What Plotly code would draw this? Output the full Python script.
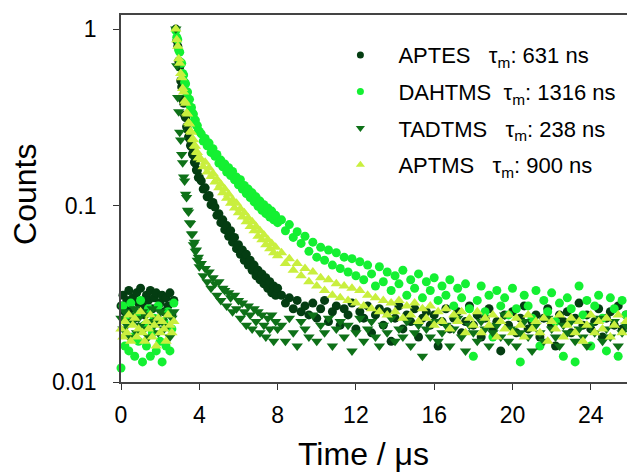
import plotly.graph_objects as go

# time channels (microseconds)
time_us = [
    0.0, 0.1, 0.2, 0.3, 0.4, 0.5, 0.6, 0.7, 0.8, 0.9, 1.0, 1.1, 1.2, 1.3, 1.4, 1.5, 1.6, 1.7, 1.8, 1.9,
    2.0, 2.1, 2.2, 2.3, 2.4, 2.5, 2.6, 2.7,
    2.8, 2.85, 2.9, 2.95, 3.0, 3.05, 3.1, 3.15, 3.2, 3.25, 3.3, 3.35, 3.4, 3.45, 3.5, 3.55, 3.6, 3.65,
    3.7, 3.75, 3.8, 3.85, 3.9, 3.95, 4.0,
    4.1, 4.2, 4.3, 4.4, 4.5, 4.6, 4.7, 4.8, 4.9, 5.0, 5.1, 5.2, 5.3, 5.4, 5.5, 5.6, 5.7, 5.8, 5.9, 6.0,
    6.1, 6.2, 6.3, 6.4, 6.5, 6.6, 6.7, 6.8, 6.9, 7.0, 7.1, 7.2, 7.3, 7.4, 7.5, 7.6, 7.7, 7.8, 7.9, 8.0,
    8.2, 8.4, 8.6, 8.8, 9.0, 9.2, 9.4, 9.6, 9.8, 10.0, 10.2, 10.4, 10.6, 10.8, 11.0, 11.2, 11.4, 11.6,
    11.8, 12.0, 12.2, 12.4, 12.6, 12.8, 13.0, 13.2, 13.4, 13.6, 13.8, 14.0, 14.2, 14.4, 14.6, 14.8,
    15.0, 15.2, 15.4, 15.6, 15.8, 16.0, 16.2, 16.4, 16.6, 16.8, 17.0, 17.2, 17.4, 17.6, 17.8, 18.0,
    18.2, 18.4, 18.6, 18.8, 19.0, 19.2, 19.4, 19.6, 19.8, 20.0, 20.2, 20.4, 20.6, 20.8, 21.0, 21.2,
    21.4, 21.6, 21.8, 22.0, 22.2, 22.4, 22.6, 22.8, 23.0, 23.2, 23.4, 23.6, 23.8, 24.0, 24.2, 24.4,
    24.6, 24.8, 25.0, 25.2, 25.4, 25.6, 25.8, 26.0,
]

aptes = [
    0.027, 0.031, 0.025, 0.029, 0.033, 0.026, 0.030, 0.023, 0.032, 0.028, 0.034, 0.027, 0.024, 0.031,
    0.029, 0.033, 0.026, 0.030, 0.032, 0.022, 0.028, 0.031, 0.025, 0.030, 0.027, 0.032, 0.024, 0.029,
    1.0, 0.86, 0.80, 0.66, 0.61, 0.51, 0.47, 0.40, 0.38, 0.325, 0.315, 0.28, 0.27, 0.245, 0.24, 0.219,
    0.215, 0.196, 0.193, 0.176, 0.174, 0.159, 0.158, 0.144, 0.145,
    0.138, 0.124, 0.126, 0.112, 0.114, 0.101, 0.104, 0.098, 0.088, 0.090, 0.080, 0.083, 0.073, 0.077,
    0.067, 0.072, 0.062, 0.066, 0.057, 0.060, 0.053, 0.056, 0.049, 0.053, 0.046, 0.049, 0.043, 0.046,
    0.040, 0.043, 0.038, 0.041, 0.036, 0.039, 0.034, 0.037, 0.032, 0.035, 0.031, 0.034,
    0.031, 0.028, 0.030, 0.026, 0.029, 0.025, 0.027, 0.024, 0.028, 0.023, 0.026, 0.029, 0.022, 0.025,
    0.027, 0.021, 0.026, 0.024, 0.028, 0.020, 0.025, 0.023, 0.027, 0.019, 0.024, 0.026, 0.021, 0.025,
    0.017, 0.023, 0.027, 0.020, 0.024, 0.022, 0.026, 0.018, 0.023, 0.025, 0.021, 0.024, 0.016, 0.022,
    0.026, 0.020, 0.023, 0.025, 0.019, 0.022, 0.027, 0.021, 0.024, 0.018, 0.023, 0.026, 0.020, 0.022,
    0.015, 0.024, 0.021, 0.025, 0.019, 0.023, 0.027, 0.020, 0.022, 0.024, 0.018, 0.023, 0.026, 0.021,
    0.016, 0.024, 0.022, 0.025, 0.019, 0.023, 0.028, 0.021, 0.024, 0.020, 0.022, 0.026, 0.018, 0.023,
    0.025, 0.021, 0.027, 0.020, 0.024, 0.022,
]

dahtms = [
    0.012, 0.027, 0.016, 0.022, 0.015, 0.028, 0.018, 0.014, 0.024, 0.017, 0.029, 0.013, 0.021, 0.016,
    0.026, 0.014, 0.019, 0.023, 0.015, 0.027, 0.017, 0.013, 0.022, 0.016, 0.025, 0.015, 0.020, 0.028,
    0.98, 0.90, 0.87, 0.76, 0.74, 0.65, 0.64, 0.56, 0.55, 0.50, 0.49, 0.44, 0.44, 0.40, 0.40, 0.36,
    0.36, 0.335, 0.33, 0.305, 0.305, 0.285, 0.284, 0.266, 0.263,
    0.255, 0.232, 0.240, 0.218, 0.226, 0.200, 0.210, 0.190, 0.195, 0.174, 0.181, 0.166, 0.172, 0.155,
    0.164, 0.148, 0.156, 0.140, 0.145, 0.131, 0.140, 0.124, 0.130, 0.117, 0.124, 0.111, 0.118, 0.105,
    0.112, 0.099, 0.106, 0.094, 0.101, 0.090, 0.097, 0.086, 0.093, 0.083, 0.088, 0.080,
    0.083, 0.072, 0.078, 0.066, 0.071, 0.061, 0.067, 0.055, 0.062, 0.051, 0.058, 0.049, 0.056, 0.046,
    0.054, 0.044, 0.051, 0.042, 0.050, 0.040, 0.048, 0.038, 0.046, 0.041, 0.035, 0.045, 0.037, 0.042,
    0.033, 0.040, 0.036, 0.043, 0.031, 0.038, 0.034, 0.041, 0.030, 0.037, 0.033, 0.039, 0.029, 0.035,
    0.031, 0.038, 0.027, 0.034, 0.030, 0.036, 0.026, 0.014, 0.029, 0.035, 0.025, 0.031, 0.018, 0.033,
    0.027, 0.030, 0.024, 0.034, 0.026, 0.013, 0.031, 0.027, 0.023, 0.033, 0.016, 0.029, 0.025, 0.032,
    0.022, 0.028, 0.014, 0.030, 0.026, 0.013, 0.035, 0.024, 0.029, 0.016, 0.027, 0.031, 0.023, 0.015,
    0.030, 0.026, 0.014, 0.029, 0.024, 0.032,
]

tadtms = [
    0.023, 0.020, 0.025, 0.021, 0.018, 0.024, 0.022, 0.026, 0.019, 0.023, 0.021, 0.025, 0.020, 0.024,
    0.018, 0.022, 0.026, 0.021, 0.023, 0.019, 0.025, 0.022, 0.020, 0.024, 0.021, 0.018, 0.023, 0.025,
    1.0, 0.62, 0.41, 0.34, 0.26, 0.235, 0.195, 0.175, 0.145, 0.138, 0.116, 0.111, 0.094, 0.092, 0.080,
    0.079, 0.069, 0.069, 0.060, 0.062, 0.055, 0.056, 0.049, 0.051, 0.045,
    0.047, 0.040, 0.044, 0.037, 0.042, 0.034, 0.039, 0.036, 0.031, 0.037, 0.029, 0.034, 0.033, 0.027,
    0.032, 0.030, 0.025, 0.031, 0.026, 0.029, 0.023, 0.028, 0.025, 0.021, 0.027, 0.024, 0.020, 0.026,
    0.022, 0.025, 0.019, 0.024, 0.021, 0.018, 0.023, 0.020, 0.024, 0.017, 0.022, 0.020,
    0.021, 0.017, 0.023, 0.019, 0.016, 0.022, 0.020, 0.018, 0.024, 0.017, 0.021, 0.019, 0.023, 0.016,
    0.020, 0.022, 0.018, 0.021, 0.015, 0.019, 0.023, 0.017, 0.020, 0.022, 0.018, 0.016, 0.021, 0.019,
    0.023, 0.017, 0.020, 0.018, 0.022, 0.016, 0.019, 0.021, 0.014, 0.020, 0.018, 0.022, 0.017, 0.019,
    0.021, 0.016, 0.020, 0.023, 0.018, 0.015, 0.021, 0.019, 0.017, 0.022, 0.020, 0.016, 0.019, 0.021,
    0.018, 0.024, 0.017, 0.020, 0.016, 0.019, 0.022, 0.018, 0.015, 0.021, 0.019, 0.017, 0.023, 0.020,
    0.018, 0.016, 0.021, 0.019, 0.022, 0.017, 0.020, 0.018, 0.016, 0.021, 0.019, 0.023, 0.017, 0.020,
    0.018, 0.022, 0.016, 0.019, 0.021, 0.018,
]

aptms = [
    0.020, 0.018, 0.022, 0.019, 0.024, 0.017, 0.021, 0.023, 0.018, 0.020, 0.025, 0.019, 0.017, 0.022,
    0.020, 0.024, 0.018, 0.021, 0.016, 0.023, 0.019, 0.022, 0.020, 0.017, 0.024, 0.021, 0.019, 0.022,
    1.0, 0.87, 0.80, 0.68, 0.64, 0.56, 0.53, 0.46, 0.44, 0.39, 0.38, 0.335, 0.33, 0.295, 0.29, 0.264,
    0.26, 0.238, 0.236, 0.218, 0.217, 0.201, 0.20, 0.186, 0.187,
    0.182, 0.166, 0.176, 0.155, 0.163, 0.146, 0.152, 0.136, 0.141, 0.126, 0.132, 0.118, 0.124, 0.110,
    0.116, 0.103, 0.108, 0.097, 0.103, 0.091, 0.096, 0.086, 0.091, 0.081, 0.085, 0.076, 0.081, 0.072,
    0.076, 0.067, 0.072, 0.064, 0.068, 0.060, 0.064, 0.057, 0.061, 0.054, 0.058, 0.052,
    0.054, 0.047, 0.050, 0.043, 0.047, 0.040, 0.044, 0.037, 0.042, 0.035, 0.039, 0.033, 0.038, 0.031,
    0.036, 0.030, 0.035, 0.029, 0.034, 0.028, 0.033, 0.027, 0.031, 0.026, 0.030, 0.025, 0.029, 0.024,
    0.028, 0.025, 0.029, 0.023, 0.027, 0.024, 0.028, 0.022, 0.026, 0.023, 0.027, 0.021, 0.025, 0.022,
    0.026, 0.020, 0.024, 0.022, 0.025, 0.019, 0.023, 0.021, 0.025, 0.019, 0.023, 0.021, 0.024, 0.018,
    0.022, 0.020, 0.024, 0.019, 0.023, 0.021, 0.018, 0.024, 0.020, 0.022, 0.019, 0.023, 0.017, 0.022,
    0.020, 0.024, 0.018, 0.021, 0.023, 0.019, 0.022, 0.017, 0.021, 0.024, 0.019, 0.022, 0.020, 0.023,
    0.018, 0.021, 0.024, 0.019, 0.022, 0.020,
]

series_names = [
    "APTES&nbsp;&nbsp;&nbsp;τ<sub>m</sub>: 631 ns",
    "DAHTMS&nbsp;&nbsp;τ<sub>m</sub>: 1316 ns",
    "TADTMS&nbsp;&nbsp;&nbsp;τ<sub>m</sub>: 238 ns",
    "APTMS&nbsp;&nbsp;&nbsp;τ<sub>m</sub>: 900 ns",
]
series_values = [aptes, dahtms, tadtms, aptms]
series_colors = ["#043d12", "#14f032", "#0e7118", "#c9ef3e"]
series_symbols = ["circle", "circle", "triangle-down", "triangle-up"]
series_sizes = [9, 9, 10, 10]
legend_sizes = [7, 7, 8, 8]

x_ticks = [0, 4, 8, 12, 16, 20, 24]
y_ticks = [0.01, 0.1, 1]
y_tick_text = ["0.01", "0.1", "1"]

FONT = "Liberation Sans, Arial, sans-serif"

fig = go.Figure()
for i, (name, vals, col, sym, sz) in enumerate(
    zip(series_names, series_values, series_colors, series_symbols, series_sizes)
):
    fig.add_trace(
        go.Scatter(
            x=time_us,
            y=vals,
            mode="markers",
            name=name,
            showlegend=False,
            legendgroup=f"g{i}",
            marker=dict(color=col, symbol=sym, size=sz, line=dict(width=0)),
            cliponaxis=False,
        )
    )
# legend-only entries with smaller key symbols, as in the original
for i, (name, col, sym, lsz) in enumerate(
    zip(series_names, series_colors, series_symbols, legend_sizes)
):
    fig.add_trace(
        go.Scatter(
            x=[None],
            y=[None],
            mode="markers",
            name=name,
            legendgroup=f"g{i}",
            marker=dict(color=col, symbol=sym, size=lsz, line=dict(width=0)),
        )
    )

fig.update_layout(
    width=627,
    height=474,
    margin=dict(l=121, r=0, t=15, b=92),
    plot_bgcolor="white",
    paper_bgcolor="white",
    font=dict(family=FONT, color="black", size=22),
    showlegend=True,
    legend=dict(
        x=0.398,
        y=0.948,
        xanchor="left",
        yanchor="top",
        bgcolor="rgba(0,0,0,0)",
        font=dict(family=FONT, size=22, color="black"),
        tracegroupgap=5,
        itemwidth=66,
        itemsizing="trace",
    ),
    xaxis=dict(
        range=[0, 25.85],
        tickvals=x_ticks,
        ticks="outside",
        ticklen=6,
        tickcolor="#333",
        showline=True,
        linecolor="#444",
        linewidth=1.5,
        mirror=True,
        showgrid=False,
        zeroline=False,
        tickfont=dict(family=FONT, size=23),
        ticklabelstandoff=6,
    ),
    yaxis=dict(
        type="log",
        range=[-2, 0.08],
        tickvals=y_ticks,
        ticktext=y_tick_text,
        ticks="outside",
        ticklen=6,
        tickcolor="#333",
        showline=True,
        linecolor="#444",
        linewidth=1.5,
        mirror=False,
        showgrid=False,
        zeroline=False,
        tickfont=dict(family=FONT, size=23),
        ticklabelstandoff=12,
    ),
    annotations=[
        dict(
            text="Counts",
            xref="paper", yref="paper",
            x=-0.19, y=0.512,
            xanchor="center", yanchor="middle",
            textangle=-90,
            showarrow=False,
            font=dict(family=FONT, size=32),
        ),
        dict(
            text="Time / μs",
            xref="paper", yref="paper",
            x=0.48, y=-0.196,
            xanchor="center", yanchor="middle",
            showarrow=False,
            font=dict(family=FONT, size=32),
        ),
    ],
)

fig.write_html(
    "out.html",
    config={"displayModeBar": False},
    post_script="document.body.style.margin='0';document.body.style.padding='0';",
)
